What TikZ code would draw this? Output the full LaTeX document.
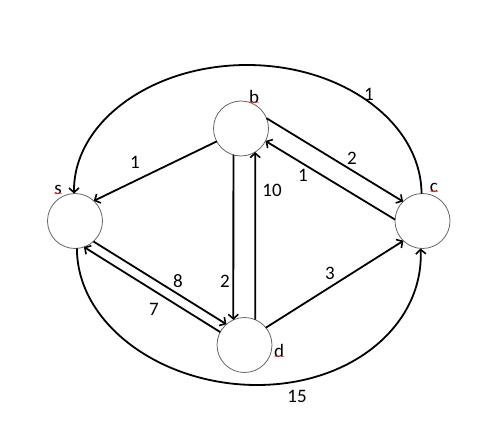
\documentclass[tikz,border=0pt]{standalone}
\usepackage{fontspec}
\setmainfont{Carlito}
\usetikzlibrary{arrows.meta,decorations.pathmorphing}
\begin{document}
\begin{tikzpicture}[x=1pt,y=-1pt,
  vtx/.style={circle,draw=black!60,line width=0.8pt,minimum size=55pt,inner sep=0pt,outer sep=0pt,fill=white},
  edge/.style={line width=1.8pt,-{Straight Barb[length=4.5pt,width=10pt,line width=1.6pt]}},
  lbl/.style={font=\fontsize{19}{21}\selectfont,inner sep=0pt},
  squig/.style={red!70,line width=0.4pt,decorate,decoration={snake,amplitude=0.5pt,segment length=2pt}}]
\useasboundingbox (0,0) rectangle (493,428);
\node[vtx] (s) at (75,221) {};
\node[vtx] (b) at (241,128.5) {};
\node[vtx] (c) at (422.5,221) {};
\node[vtx] (d) at (244.5,345) {};
% vertex names
\node[lbl] (sn) at (58,190) {s};
\node[lbl] (bn) at (254,97) {b};
\node[lbl] (cn) at (434,188) {c};
\node[lbl] (dn) at (279,351) {d};
\foreach \n in {sn,bn,cn,dn}{\draw[squig] ([yshift=1.5pt]\n.south west) -- ([yshift=1.5pt]\n.south east);}
% straight edges
\draw[edge] (b.-152.6) -- (s.47.9);
\draw[edge] (b.22.8) -- (c.135.7);
\draw[edge] (c.177.9) -- (b.-27.4);
\draw[edge] (b.-106.9) -- (d.114.7);
\draw[edge] (d.67.5) -- (b.-59.4);
\draw[edge] (s.-48) -- (d.131.5);
\draw[edge] (d.152) -- (s.-71);
\draw[edge] (d.39.9) -- (c.-134.3);
% arcs
\draw[edge] (c.92) .. controls (421,122.8) and (343.1,65) .. (247,65)
  .. controls (150.9,65) and (73,122.8) .. (s.92);
\draw[edge] (s.-86) .. controls (77,324) and (161,385) .. (257,385)
  .. controls (353,385) and (424,324) .. (c.-94);
% weights
\node[lbl] (w1) at (135,162) {1};
\node[lbl] (w2) at (352,158) {2};
\node[lbl] (w3) at (303,175) {1};
\node[lbl] (w4) at (272,190) {10};
\node[lbl] (w5) at (225,281) {2};
\node[lbl] (w6) at (178,281) {8};
\node[lbl] (w7) at (154,309) {7};
\node[lbl] (w8) at (330,273) {3};
\node[lbl] (w9) at (369,94) {1};
\node[lbl] (w10) at (297,396) {15};
\end{tikzpicture}
\end{document}
